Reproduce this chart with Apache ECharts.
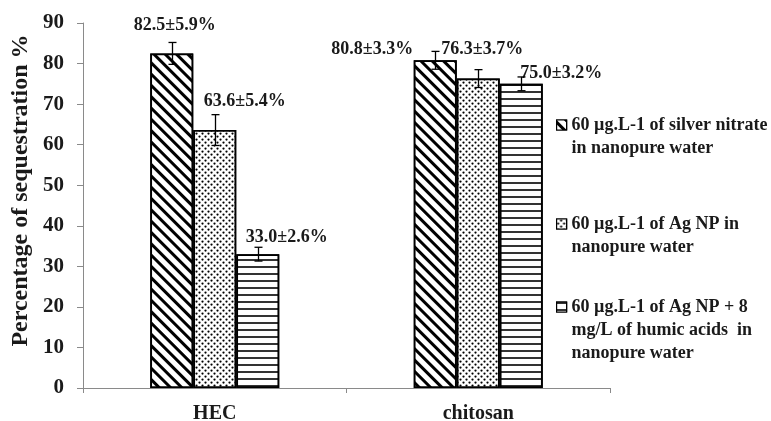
<!DOCTYPE html>
<html>
<head>
<meta charset="utf-8">
<script src="https://cdn.jsdelivr.net/npm/echarts@6/dist/echarts.min.js"></script>
<style>
  html, body { margin: 0; padding: 0; background: #ffffff; }
  #chart { width: 771px; height: 421px; }
</style>
</head>
<body>
<div id="chart"></div>
<script>
// Sorbent materials on the category axis
const categories = ['HEC', 'chitosan'];

// Treatments (legend entries)
const seriesNames = [
  '60 µg.L-1 of silver nitrate\nin nanopure water',
  '60 µg.L-1 of Ag NP in\nnanopure water',
  '60 µg.L-1 of Ag NP + 8\nmg/L of humic acids  in\nnanopure water'
];

// Mean percentage of sequestration (%)
const silverNitrate = [82.5, 80.8];
const agNP = [63.6, 76.3];
const agNPHumic = [33.0, 75.0];

// Standard deviation quoted in the labels (%)
const sdSilverNitrate = [5.9, 3.3];
const sdAgNP = [5.4, 3.7];
const sdAgNPHumic = [2.6, 3.2];

// Half-length of the plotted error whiskers (%)
const whiskerSilverNitrate = [2.7, 2.2];
const whiskerAgNP = [3.8, 2.2];
const whiskerAgNPHumic = [1.7, 1.7];

// Value axis ticks
const yMin = 0;
const yMax = 90;
const yStep = 10;

// ---------------------------------------------------------------
const FONT = '"Liberation Serif", "Times New Roman", serif';
const INK = '#1a1a1a';
const AXIS_GREY = '#8a8a8a';
const BAR_W = 43;

const means = [silverNitrate, agNP, agNPHumic];
const sds = [sdSilverNitrate, sdAgNP, sdAgNPHumic];
const whiskers = [whiskerSilverNitrate, whiskerAgNP, whiskerAgNPHumic];

// fill patterns: back-diagonal hatching, staggered dots, horizontal rules
const decals = [
  { symbol: 'rect', color: '#000', backgroundColor: '#fff',
    dashArrayX: [1, 0], dashArrayY: [3, 5], rotation: Math.PI / 4 },
  { symbol: 'circle', color: '#000', backgroundColor: '#fff', symbolSize: 0.75,
    dashArrayX: [[3, 3], [0, 3, 3, 0]], dashArrayY: [3, 0] },
  { symbol: 'rect', color: '#333', backgroundColor: '#fff',
    dashArrayX: [1, 0], dashArrayY: [2, 5] }
];

// label nudges [dx, dy] relative to the bar top centre
const labelShift = [
  [[3, -28], [-63, -11]],
  [[30, -29], [4, -29]],
  [[29, -17], [40, -10]]
];

const barSeries = means.map((vals, s) => ({
  type: 'bar',
  name: seriesNames[s],
  barWidth: BAR_W,
  barGap: '0%',
  itemStyle: {
    color: '#fff',
    borderColor: '#000',
    borderWidth: 1.8,
    decal: decals[s]
  },
  label: {
    show: true,
    position: ['50%', 0],
    align: 'center',
    verticalAlign: 'middle',
    fontFamily: FONT,
    fontWeight: 'bold',
    fontSize: 18,
    color: INK,
    formatter: p => p.value.toFixed(1) + '±' + sds[s][p.dataIndex].toFixed(1) + '%'
  },
  emphasis: { disabled: true },
  data: vals.map((v, i) => ({ value: v, label: { offset: labelShift[s][i] } })),
  z: 2
}));

const whiskerSeries = means.map((vals, s) => ({
  type: 'custom',
  silent: true,
  z: 5,
  data: vals.map((v, i) => [i, v, whiskers[s][i]]),
  renderItem: (params, api) => {
    const cat = api.value(0);
    const v = api.value(1);
    const e = api.value(2);
    const mid = api.coord([cat, v]);
    const hi = api.coord([cat, v + e]);
    const lo = api.coord([cat, v - e]);
    const x = Math.round(mid[0] + (s - 1) * BAR_W) + 0.5;
    const cap = 4;
    const st = { stroke: '#000', lineWidth: 1.3 };
    return {
      type: 'group',
      children: [
        { type: 'line', shape: { x1: x, y1: hi[1], x2: x, y2: lo[1] }, style: st },
        { type: 'line', shape: { x1: x - cap, y1: hi[1], x2: x + cap, y2: hi[1] }, style: st },
        { type: 'line', shape: { x1: x - cap, y1: lo[1], x2: x + cap, y2: lo[1] }, style: st }
      ]
    };
  }
}));

// one legend block per treatment; blank lines ahead of the text keep the
// swatch level with the first line of a wrapped entry
const LINE_H = 23;
const legendTops = [90.5, 189.5, 249.5];
const legends = seriesNames.map((name, i) => {
  const lines = name.split('\n').length;
  return {
    data: [name],
    orient: 'vertical',
    left: 556,
    top: legendTops[i],
    padding: 0,
    icon: 'rect',
    itemWidth: 10,
    itemHeight: 10,
    selectedMode: false,
    itemStyle: { borderWidth: 1.2 },
    formatter: n => '\n'.repeat(lines - 1) + n,
    textStyle: {
      fontFamily: FONT,
      fontWeight: 'bold',
      fontSize: 18,
      lineHeight: LINE_H,
      color: INK
    }
  };
});

const chart = echarts.init(document.getElementById('chart'), null, { renderer: 'canvas' });
chart.setOption({
  animation: false,
  backgroundColor: '#fff',
  legend: legends,
  grid: { left: 83, right: 161, top: 23, bottom: 33, containLabel: false, outerBoundsMode: 'none' },
  xAxis: {
    type: 'category',
    data: categories,
    axisLine: { lineStyle: { color: AXIS_GREY, width: 1 } },
    axisTick: { show: true, length: 5, lineStyle: { color: AXIS_GREY } },
    axisLabel: {
      margin: 16,
      fontFamily: FONT,
      fontWeight: 'bold',
      fontSize: 20,
      color: INK
    }
  },
  yAxis: {
    type: 'value',
    min: yMin,
    max: yMax,
    interval: yStep,
    name: 'Percentage of sequestration %',
    nameLocation: 'middle',
    nameGap: 50,
    nameMoveOverlap: false,
    nameTextStyle: {
      fontFamily: FONT,
      fontWeight: 'bold',
      fontSize: 24,
      color: INK,
      padding: [0, 0, 0, 30]
    },
    axisLine: { show: true, lineStyle: { color: AXIS_GREY, width: 1 } },
    axisTick: { show: true, length: 6, lineStyle: { color: AXIS_GREY } },
    splitLine: { show: false },
    axisLabel: {
      margin: 19,
      fontFamily: FONT,
      fontWeight: 'bold',
      fontSize: 21,
      color: INK
    }
  },
  series: [...barSeries, ...whiskerSeries]
});
</script>
</body>
</html>
